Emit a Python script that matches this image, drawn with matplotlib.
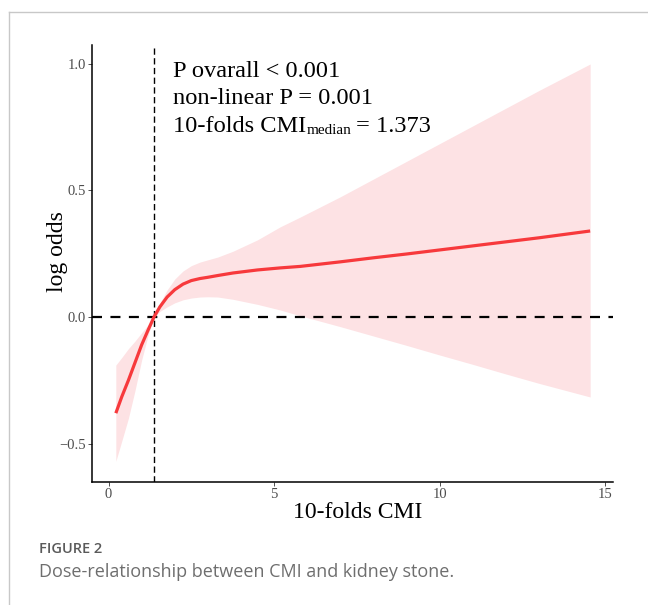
import matplotlib
matplotlib.use("Agg")
import matplotlib.pyplot as plt
from matplotlib.lines import Line2D

# ---- data ----
cmi_x = [0.22, 0.4, 0.6, 0.8, 1.0, 1.2, 1.373, 1.55, 1.77, 2.0, 2.25, 2.5, 2.76, 3.0, 3.3, 3.76,
         4.5, 5.18, 5.79, 7.0, 8.0, 9.0, 10.0, 11.0, 12.0, 13.0, 14.55]
log_odds = [-0.38, -0.315, -0.25, -0.18, -0.11, -0.05, 0.0, 0.04, 0.079, 0.108, 0.130, 0.144, 0.152,
            0.157, 0.164, 0.174, 0.186, 0.194, 0.200, 0.218, 0.234, 0.249, 0.265, 0.281, 0.297, 0.313, 0.34]
ci_upper = [-0.19, -0.16, -0.125, -0.095, -0.062, -0.03, 0.0, 0.055, 0.107, 0.150, 0.182, 0.203, 0.217,
            0.226, 0.237, 0.26, 0.305, 0.356, 0.395, 0.475, 0.545, 0.615, 0.685, 0.755, 0.825, 0.895, 1.0]
ci_lower = [-0.57, -0.49, -0.40, -0.29, -0.17, -0.07, 0.0, 0.022, 0.04, 0.056, 0.068, 0.075, 0.079,
            0.08, 0.079, 0.07, 0.05, 0.028, 0.005, -0.038, -0.075, -0.112, -0.15, -0.187, -0.225, -0.262, -0.316]
cmi_median = 1.373
x_ticks = [0, 5, 10, 15]
y_ticks = [-0.5, 0.0, 0.5, 1.0]
annot_lines = ["P ovarall < 0.001", "non-linear P = 0.001"]
annot_third = ("10-folds CMI", "median", "= 1.373")
x_label = "10-folds CMI"
y_label = "log odds"
fig_label = "FIGURE 2"
caption = "Dose-relationship between CMI and kidney stone."

serif = ["Liberation Serif", "DejaVu Serif"]
W, H = 648, 605
fig = plt.figure(figsize=(W / 100, H / 100), dpi=100)
fig.patch.set_facecolor("white")

L, R, T, B = 92, 613, 45, 482
ax = fig.add_axes([L / W, 1 - B / H, (R - L) / W, (B - T) / H])

ax.fill_between(cmi_x, ci_lower, ci_upper, color="#FDE2E4", linewidth=0, zorder=1)
ax.plot(cmi_x, log_odds, color="#F7393C", linewidth=2.3, zorder=3, solid_capstyle="butt")
ax.axhline(0, color="black", linewidth=1.6, linestyle=(0, (4.5, 3.8)), zorder=2)
ax.axvline(cmi_median, color="black", linewidth=1.0, linestyle=(0, (4.5, 2.5)), zorder=2)

ax.set_xlim(-0.5, 15.24)
ax.set_ylim(-0.652, 1.075)
ax.set_xticks(x_ticks)
ax.set_yticks(y_ticks)
ax.set_xticklabels([str(v) for v in x_ticks])
ax.set_yticklabels(["\u22120.5", "0.0", "0.5", "1.0"])
for s in ["top", "right"]:
    ax.spines[s].set_visible(False)
for s in ["left", "bottom"]:
    ax.spines[s].set_linewidth(1.1)
    ax.spines[s].set_color("black")
ax.tick_params(axis="both", direction="out", length=3, width=0.6, color="#333333",
               labelcolor="#4D4D4D", labelsize=10.5, pad=1.5)
for lab in ax.get_xticklabels() + ax.get_yticklabels():
    lab.set_family(serif)

ax.set_xlabel(x_label, fontsize=17, family=serif, color="black")
ax.xaxis.label.set_va("center")
ax.xaxis.set_label_coords(0.509, (B - 513) / (B - T))
ax.set_ylabel(y_label, fontsize=17, family=serif, color="black")
ax.yaxis.label.set_va("center")
ax.yaxis.set_label_coords((58 - L) / (R - L), (B - 252) / (B - T))

# annotation
ax_x = (173 - L) / (R - L)
baselines = [77, 104, 132]
fs_ann = 17.6
for txt, bl in zip(annot_lines, baselines[:2]):
    ax.text(ax_x, (B - bl) / (B - T), txt, transform=ax.transAxes, fontsize=fs_ann,
            family=serif, va="baseline", ha="left", color="black")
t1 = ax.text(ax_x, (B - baselines[2]) / (B - T), annot_third[0], transform=ax.transAxes,
             fontsize=fs_ann, family=serif, va="baseline", ha="left", color="black")
fig.canvas.draw()
r = fig.canvas.get_renderer()
bb1 = t1.get_window_extent(r)
base_y = fig.transFigure.inverted().transform(
    ax.transAxes.transform((ax_x, (B - baselines[2]) / (B - T))))[1]
t2 = fig.text((bb1.x1 + 0.5) / W, base_y - 2.0 / H, annot_third[1], fontsize=11,
              family=serif, va="baseline", ha="left", color="black")
fig.canvas.draw()
bb2 = t2.get_window_extent(r)
fig.text((bb2.x1 + 4) / W, base_y, annot_third[2], fontsize=fs_ann, family=serif,
         va="baseline", ha="left", color="black")

# frame
fig.add_artist(Line2D([9 / W, 9 / W], [0, 1 - 12 / H], color="#C8C8C8", linewidth=1.0,
                      transform=fig.transFigure))
fig.add_artist(Line2D([9 / W, 1], [1 - 12 / H, 1 - 12 / H], color="#C8C8C8", linewidth=1.0,
                      transform=fig.transFigure))

# caption
fig.text(39 / W, 1 - 549 / H, fig_label, fontsize=10.5, family=["Open Sans", "DejaVu Sans"],
         fontweight="semibold", color="#5A5A5A", va="center", ha="left")
fig.text(39 / W, 1 - 572 / H, caption, fontsize=13, family=["Open Sans", "DejaVu Sans"],
         color="#6E6E6E", va="center", ha="left")

fig.savefig("out.png", dpi=100, facecolor="white")
